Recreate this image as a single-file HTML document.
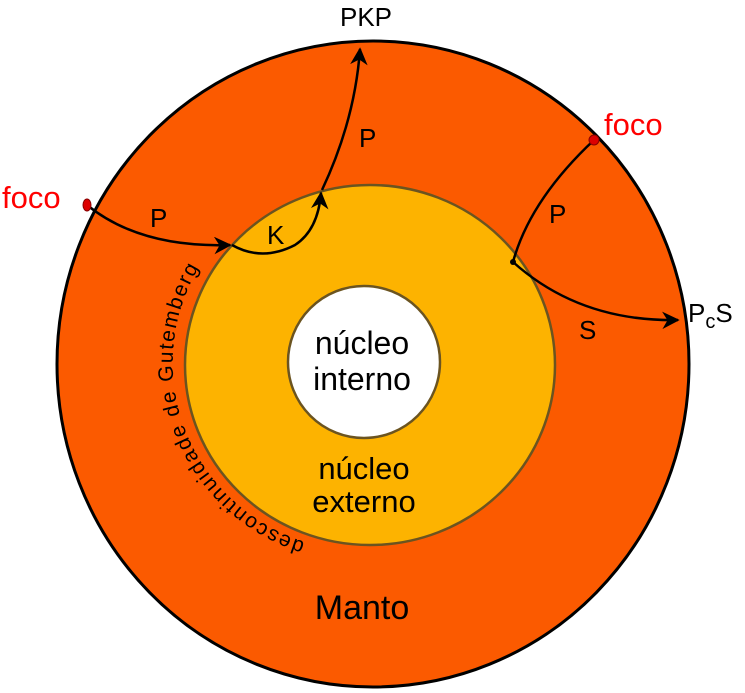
<!DOCTYPE html>
<html><head><meta charset="utf-8"><style>
html,body{margin:0;padding:0;background:#fff;}
svg{display:block;font-family:"Liberation Sans",sans-serif;}
</style></head><body>
<svg width="745" height="693" viewBox="0 0 745 693">
<defs>
<marker id="ah" viewBox="0 0 10 10" refX="9" refY="5" markerWidth="7" markerHeight="7" orient="auto-start-reverse"><path d="M0,0 L10,5 L0,10 L3,5 z" fill="#000"/></marker>
<path id="gut" d="M 305 542 A 190 188 0 0 1 205 258"/>
</defs>
<ellipse cx="373" cy="364" rx="316" ry="323" fill="#fb5a00" stroke="#000" stroke-width="3"/>
<ellipse cx="370" cy="365" rx="185" ry="180" fill="#fdb300" stroke="#6b5420" stroke-width="2.5"/>
<circle cx="364" cy="362" r="76" fill="#fff" stroke="#6b5420" stroke-width="2.5"/>

<g fill="none" stroke="#000" stroke-width="2.5">
<path d="M87 205 Q140 248 230 245" marker-end="url(#ah)"/>
<path d="M232 245 Q262 262 295 245 Q318 230 321 193" marker-end="url(#ah)"/>
<path d="M322 190 Q355 120 360 49" marker-end="url(#ah)"/>
<path d="M594 140 Q530 200 513 262"/>
<path d="M513 262 Q580 322 678 320" marker-end="url(#ah)"/>
</g>
<circle cx="513" cy="262" r="3" fill="#000"/>
<ellipse cx="87" cy="205" rx="4" ry="6" fill="#d00" stroke="#800" stroke-width="1"/>
<ellipse cx="594" cy="140" rx="5" ry="5" fill="#d00" stroke="#800" stroke-width="1"/>

<text x="2" y="208" font-size="31" fill="#f00">foco</text>
<text x="604" y="135" font-size="31" fill="#f00">foco</text>
<text x="366" y="26" font-size="26" text-anchor="middle">PKP</text>
<text x="688" y="322" font-size="26">P<tspan font-size="20" dy="6">c</tspan><tspan dy="-6">S</tspan></text>
<text x="150" y="227" font-size="26">P</text>
<text x="267" y="244" font-size="26">K</text>
<text x="359" y="147" font-size="26">P</text>
<text x="549" y="223" font-size="26">P</text>
<text x="579" y="339" font-size="26">S</text>
<text x="362" y="354" font-size="32" text-anchor="middle">núcleo</text>
<text x="362" y="390" font-size="32" text-anchor="middle">interno</text>
<text x="364" y="479" font-size="31" text-anchor="middle">núcleo</text>
<text x="364" y="512" font-size="31" text-anchor="middle">externo</text>
<text x="362" y="619" font-size="34" text-anchor="middle">Manto</text>
<text font-size="21"><textPath href="#gut" textLength="338" lengthAdjust="spacing">descontinuidade de Gutemberg</textPath></text>
</svg>
</body></html>
